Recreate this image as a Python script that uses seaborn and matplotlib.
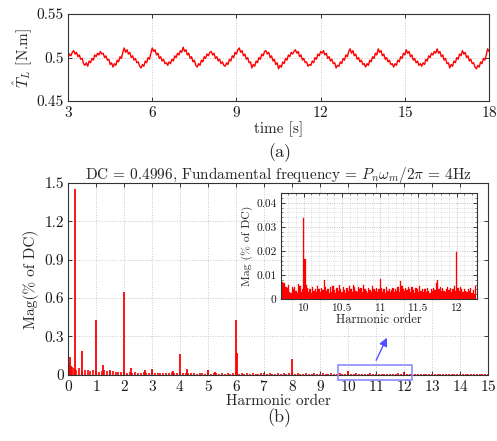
import numpy as np
import matplotlib
matplotlib.use("Agg")
import matplotlib.pyplot as plt
import matplotlib.patches as patches
import seaborn as sns

# (a) estimated load torque, sampled every 0.05 s from 3 s to 18 s
torque = [
    0.500, 0.504, 0.502, 0.506, 0.508, 0.504, 0.506, 0.501, 0.503, 0.498, 0.499, 0.493, 0.491, 0.494, 0.490, 0.496, 0.494, 0.499, 0.497, 0.503,
    0.501, 0.505, 0.503, 0.507, 0.504, 0.505, 0.500, 0.502, 0.497, 0.498, 0.492, 0.494, 0.489, 0.493, 0.491, 0.497, 0.495, 0.501, 0.499, 0.506,
    0.511, 0.506, 0.509, 0.504, 0.506, 0.500, 0.502, 0.497, 0.499, 0.494, 0.495, 0.490, 0.488, 0.492, 0.490, 0.496, 0.494, 0.500, 0.498, 0.505,
    0.511, 0.507, 0.509, 0.503, 0.505, 0.499, 0.501, 0.496, 0.498, 0.493, 0.494, 0.491, 0.495, 0.493, 0.498, 0.496, 0.502, 0.500, 0.505, 0.503,
    0.508, 0.506, 0.512, 0.507, 0.509, 0.503, 0.505, 0.499, 0.501, 0.495, 0.497, 0.491, 0.489, 0.493, 0.491, 0.497, 0.495, 0.501, 0.499, 0.504,
    0.502, 0.506, 0.507, 0.503, 0.505, 0.499, 0.501, 0.496, 0.498, 0.493, 0.495, 0.491, 0.490, 0.494, 0.492, 0.498, 0.496, 0.502, 0.500, 0.506,
    0.504, 0.509, 0.511, 0.506, 0.508, 0.502, 0.504, 0.498, 0.500, 0.494, 0.495, 0.488, 0.492, 0.490, 0.496, 0.494, 0.500, 0.498, 0.504, 0.502,
    0.507, 0.508, 0.504, 0.506, 0.500, 0.502, 0.496, 0.498, 0.492, 0.494, 0.487, 0.491, 0.489, 0.495, 0.493, 0.499, 0.497, 0.503, 0.501, 0.506,
    0.504, 0.507, 0.509, 0.505, 0.507, 0.501, 0.503, 0.497, 0.499, 0.494, 0.495, 0.490, 0.492, 0.491, 0.496, 0.494, 0.500, 0.498, 0.504, 0.502,
    0.507, 0.505, 0.508, 0.503, 0.505, 0.499, 0.501, 0.496, 0.498, 0.493, 0.494, 0.488, 0.491, 0.490, 0.495, 0.493, 0.499, 0.497, 0.503, 0.501,
    0.507, 0.510, 0.505, 0.508, 0.502, 0.504, 0.498, 0.500, 0.495, 0.497, 0.492, 0.493, 0.489, 0.493, 0.491, 0.497, 0.495, 0.501, 0.499, 0.505,
    0.503, 0.510, 0.506, 0.508, 0.502, 0.504, 0.498, 0.500, 0.495, 0.497, 0.492, 0.493, 0.489, 0.493, 0.491, 0.497, 0.495, 0.501, 0.499, 0.505,
    0.503, 0.509, 0.505, 0.507, 0.501, 0.503, 0.497, 0.499, 0.494, 0.496, 0.491, 0.493, 0.490, 0.494, 0.492, 0.498, 0.496, 0.502, 0.500, 0.505,
    0.503, 0.507, 0.505, 0.510, 0.505, 0.507, 0.501, 0.503, 0.497, 0.499, 0.493, 0.494, 0.488, 0.492, 0.490, 0.496, 0.494, 0.500, 0.498, 0.504,
    0.502, 0.508, 0.504, 0.506, 0.500, 0.502, 0.496, 0.498, 0.493, 0.494, 0.489, 0.487, 0.491, 0.489, 0.495, 0.493, 0.499, 0.497, 0.503, 0.510,
    0.507,
]
time = np.linspace(3, 18, len(torque))

# (b) spectrum noise floor, one value every 0.1 harmonic order (0 .. 15)
floor_mag = [
    0.0, 0.06, 0.05, 0.04, 0.05, 0.03, 0.04, 0.035, 0.03, 0.04,
    0.03, 0.025, 0.03, 0.035, 0.03, 0.025, 0.03, 0.02, 0.025, 0.02,
    0.02, 0.018, 0.02, 0.015, 0.02, 0.018, 0.015, 0.02, 0.015, 0.018,
    0.015, 0.012, 0.015, 0.013, 0.012, 0.015, 0.012, 0.02, 0.013, 0.012,
    0.015, 0.012, 0.013, 0.012, 0.015, 0.012, 0.01, 0.012, 0.013, 0.01,
    0.012, 0.01, 0.012, 0.015, 0.01, 0.012, 0.01, 0.012, 0.01, 0.011,
    0.012, 0.01, 0.012, 0.01, 0.011, 0.01, 0.012, 0.01, 0.01, 0.011,
    0.012, 0.01, 0.011, 0.01, 0.01, 0.012, 0.01, 0.011, 0.01, 0.012,
    0.012, 0.01, 0.011, 0.01, 0.01, 0.012, 0.01, 0.01, 0.011, 0.01,
    0.01, 0.011, 0.01, 0.01, 0.012, 0.01, 0.01, 0.011, 0.01, 0.01,
    0.01, 0.009, 0.01, 0.011, 0.009, 0.01, 0.009, 0.01, 0.011, 0.009,
    0.01, 0.009, 0.01, 0.009, 0.01, 0.009, 0.01, 0.009, 0.011, 0.009,
    0.01, 0.009, 0.01, 0.009, 0.009, 0.01, 0.009, 0.01, 0.009, 0.009,
    0.009, 0.01, 0.009, 0.009, 0.01, 0.009, 0.009, 0.01, 0.009, 0.009,
    0.009, 0.01, 0.009, 0.009, 0.01, 0.009, 0.009, 0.01, 0.009, 0.009,
    0.009,
]
floor_order = np.linspace(0, 15, len(floor_mag))

# (b) distinct spectral lines
peak_order = [0.0, 0.017, 0.05, 0.083, 0.117, 0.15, 0.25, 0.5, 1.0, 1.25, 1.5, 2.0, 2.25,
              2.75, 3.0, 3.75, 4.0, 4.25, 5.0, 5.25, 6.0, 6.017, 8.0, 10.0, 12.0]
peak_mag = [100.0, 0.09, 0.07, 0.14, 0.07, 0.06, 1.45, 0.19, 0.43, 0.08, 0.04, 0.65, 0.05,
            0.04, 0.045, 0.03, 0.165, 0.045, 0.035, 0.025, 0.43, 0.17, 0.122, 0.033, 0.019]

# inset: zoomed spectrum, bins of 1/60 harmonic order starting at 9.7
inset_mag = [
    0.0070, 0.0072, 0.0065, 0.0068, 0.0050, 0.0045, 0.0060, 0.0030, 0.0025, 0.0048,
    0.0040, 0.0050, 0.0035, 0.0025, 0.0062, 0.0055, 0.0030, 0.0042,
    0.0335,
    0.0165, 0.0060, 0.0045, 0.0030, 0.0040, 0.0025, 0.0050, 0.0035, 0.0042, 0.0028,
    0.0055, 0.0040, 0.0030, 0.0045, 0.0036, 0.0077, 0.0050, 0.0032, 0.0040, 0.0025,
    0.0048, 0.0030, 0.0052, 0.0038, 0.0027, 0.0045, 0.0035, 0.0060, 0.0042, 0.0030,
    0.0050, 0.0038, 0.0025, 0.0045, 0.0032, 0.0055, 0.0040, 0.0030, 0.0060, 0.0048,
    0.0035, 0.0028, 0.0050, 0.0040, 0.0045, 0.0030, 0.0058, 0.0042, 0.0035, 0.0025,
    0.0046, 0.0038, 0.0030, 0.0052, 0.0040, 0.0033, 0.0045, 0.0028, 0.0040,
    0.0085,
    0.0045, 0.0030, 0.0040, 0.0025, 0.0050, 0.0035, 0.0042, 0.0030, 0.0038, 0.0045,
    0.0028, 0.0040, 0.0035, 0.0050, 0.0030, 0.0075, 0.0055, 0.0040, 0.0032, 0.0045,
    0.0036, 0.0050, 0.0042, 0.0030, 0.0048, 0.0038, 0.0025, 0.0045, 0.0040, 0.0030,
    0.0052, 0.0035, 0.0042, 0.0028, 0.0040, 0.0030, 0.0045, 0.0035, 0.0025, 0.0040,
    0.0032, 0.0046, 0.0038, 0.0065, 0.0080, 0.0040, 0.0050, 0.0035, 0.0045, 0.0035,
    0.0030, 0.0042, 0.0050, 0.0038, 0.0045, 0.0030, 0.0040, 0.0055, 0.0035,
    0.0195,
    0.0045, 0.0035, 0.0050, 0.0040, 0.0030, 0.0042, 0.0035, 0.0028, 0.0040, 0.0032,
    0.0045, 0.0025, 0.0038, 0.0020, 0.0055,
]
inset_order = 9.7 + np.arange(len(inset_mag)) / 60

sns.set_theme(style="ticks")
plt.rcParams["font.family"] = ["cmr10", "DejaVu Serif"]
plt.rcParams["mathtext.fontset"] = "cm"
plt.rcParams["axes.formatter.use_mathtext"] = True
plt.rcParams["axes.unicode_minus"] = False

RED = "#ff0000"
grid_kw = dict(color="0.78", linestyle=":", linewidth=0.7)


def matlab_axes(ax, size):
    for s in ax.spines.values():
        s.set_color("0.2")
        s.set_linewidth(0.8)
    ax.tick_params(direction="in", top=True, right=True, length=3, width=0.6,
                   labelsize=size, colors="0.1", pad=3)


fig = plt.figure(figsize=(4.97, 4.41), dpi=100)

# ---- (a) time domain
ax1 = fig.add_axes([0.137, 0.771, 0.847, 0.197])
sns.lineplot(x=time, y=torque, ax=ax1, color=RED, linewidth=1.0)
ax1.set_xlim(3, 18)
ax1.set_ylim(0.45, 0.55)
ax1.set_xticks([3, 6, 9, 12, 15, 18])
ax1.set_yticks([0.45, 0.5, 0.55])
ax1.set_yticklabels(["0.45", "0.5", "0.55"])
ax1.grid(True, **grid_kw)
matlab_axes(ax1, 11)
ax1.set_xlabel("time [s]", fontsize=11, labelpad=1)
ax1.set_ylabel(r"$\hat{T}_L$ [N.m]", fontsize=11, labelpad=2)
fig.text(0.562, 0.653, "(a)", ha="center", va="center", fontsize=13)

# ---- (b) harmonic spectrum
ax2 = fig.add_axes([0.137, 0.150, 0.845, 0.435])
ax2.vlines(floor_order, 0, floor_mag, color=RED, linewidth=1.2)
ax2.vlines(peak_order, 0, peak_mag, color=RED, linewidth=1.3)
ax2.set_xlim(0, 15)
ax2.set_ylim(0, 1.5)
ax2.set_xticks(range(0, 16))
ax2.set_yticks([0, 0.3, 0.6, 0.9, 1.2, 1.5])
ax2.set_yticklabels(["0", "0.3", "0.6", "0.9", "1.2", "1.5"])
ax2.grid(True, **grid_kw)
matlab_axes(ax2, 11)
ax2.set_xlabel("Harmonic order", fontsize=11, labelpad=0)
ax2.set_ylabel("Mag(% of DC)", fontsize=11, labelpad=4)
ax2.set_title(r"DC = 0.4996, Fundamental frequency = $P_n\omega_m/2\pi$ = 4Hz",
              fontsize=11, pad=3)
fig.text(0.562, 0.054, "(b)", ha="center", va="center", fontsize=13)

ax2.add_patch(patches.Rectangle((9.64, -0.04), 2.65, 0.118, fill=False,
                                edgecolor="#8c8cff", linewidth=1.2, clip_on=False, zorder=5))
ax2.annotate("", xy=(11.43, 0.31), xytext=(10.96, 0.094),
             arrowprops=dict(arrowstyle="-|>", color="#5050ff", lw=1.0, mutation_scale=12))

# ---- inset
ax3 = fig.add_axes([0.565, 0.322, 0.394, 0.240])
ax3.bar(inset_order, inset_mag, width=1 / 60, color=RED, edgecolor=RED, linewidth=0.2)
ax3.set_xlim(9.7, 12.26)
ax3.set_ylim(0, 0.044)
ax3.set_xticks([10, 10.5, 11, 11.5, 12])
ax3.set_xticklabels(["10", "10.5", "11", "11.5", "12"])
ax3.set_yticks([0, 0.01, 0.02, 0.03, 0.04])
ax3.set_yticklabels(["0", "0.01", "0.02", "0.03", "0.04"])
ax3.set_xticks(np.arange(9.7, 12.26, 0.1), minor=True)
ax3.set_yticks(np.arange(0, 0.0441, 0.002), minor=True)
ax3.grid(True, which="major", color="0.7", linestyle=":", linewidth=0.6)
ax3.grid(True, which="minor", color="0.8", linestyle=":", linewidth=0.5)
matlab_axes(ax3, 8.2)
ax3.tick_params(which="minor", direction="in", top=True, right=True, length=1.2, width=0.4)
ax3.set_facecolor("white")
ax3.set_xlabel("Harmonic order", fontsize=9, labelpad=1)
ax3.set_ylabel("Mag (% of DC)", fontsize=8.5, labelpad=2)

fig.savefig("out.png", dpi=100)
